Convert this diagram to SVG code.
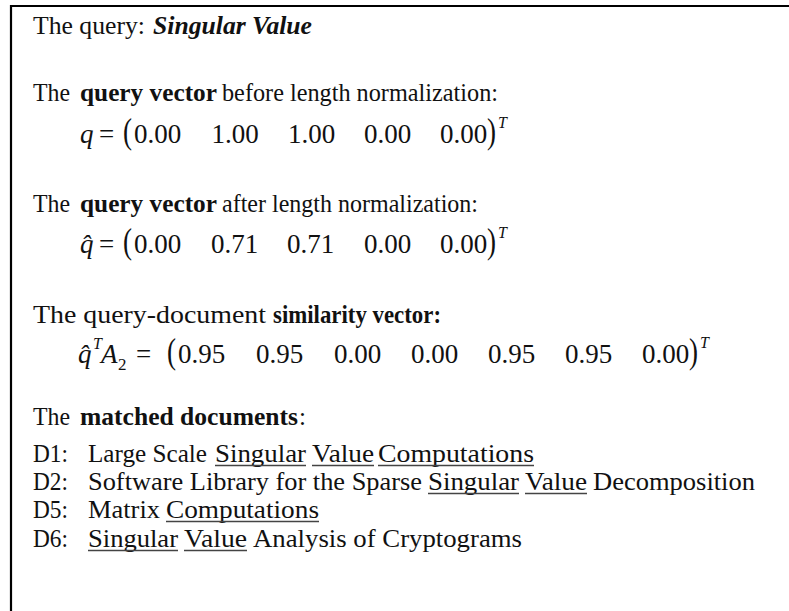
<svg xmlns="http://www.w3.org/2000/svg" width="789" height="611" viewBox="0 0 789 611">
  <style>
    .t { font-family: "Liberation Serif", "Times New Roman", serif; font-size: 25px; fill: #111; }
    .b { font-weight: bold; }
    .bi { font-weight: bold; font-style: italic; }
    .m { font-family: "Liberation Serif", "Times New Roman", serif; font-size: 27px; fill: #111; }
    .i { font-style: italic; }
    .par { font-family: "Liberation Serif", "Times New Roman", serif; font-size: 27px; fill: #111; }
    .sup { font-family: "Liberation Serif", "Times New Roman", serif; font-size: 16px; font-style: italic; fill: #111; }
    .sub { font-family: "Liberation Serif", "Times New Roman", serif; font-size: 17px; fill: #111; }
    .ul { stroke: #444; stroke-width: 1.4; }
    .frame { fill: none; stroke: #000; stroke-width: 2.2; }
  </style>
  <rect width="789" height="611" fill="#fff"/>

  <!-- frame: top and left rules -->
  <path class="frame" d="M11 620 V6 H800"/>

  <!-- query -->
  <g id="query">
    <text class="t" x="33" y="34" textLength="112" lengthAdjust="spacingAndGlyphs">The query:</text>
    <text class="t bi" x="153" y="34" textLength="159" lengthAdjust="spacingAndGlyphs">Singular Value</text>
  </g>

  <!-- query vector before normalization -->
  <g id="query-vector">
    <text class="t" x="33" y="101" textLength="37" lengthAdjust="spacingAndGlyphs">The</text>
    <text class="t b" x="80" y="101" textLength="137" lengthAdjust="spacingAndGlyphs">query vector</text>
    <text class="t" x="222" y="101" textLength="276" lengthAdjust="spacingAndGlyphs">before length normalization:</text>
    <text class="m i" x="80" y="143">q</text>
    <text class="m" x="99" y="143">=</text>
    <text class="par" transform="translate(123 143) scale(1 1.35)">(</text>
    <text class="m" y="143"><tspan x="134">0.00</tspan><tspan x="211.5">1.00</tspan><tspan x="288">1.00</tspan><tspan x="364">0.00</tspan><tspan x="440">0.00</tspan></text>
    <text class="par" transform="translate(487 143) scale(1 1.35)">)</text>
    <text class="sup" x="498" y="128">T</text>
  </g>

  <!-- query vector after normalization -->
  <g id="normalized-vector">
    <text class="t" x="33" y="212" textLength="37" lengthAdjust="spacingAndGlyphs">The</text>
    <text class="t b" x="80" y="212" textLength="137" lengthAdjust="spacingAndGlyphs">query vector</text>
    <text class="t" x="222" y="212" textLength="256" lengthAdjust="spacingAndGlyphs">after length normalization:</text>
    <text class="m i" x="80" y="253">q&#x302;</text>
    <text class="m" x="99" y="253">=</text>
    <text class="par" transform="translate(123 253) scale(1 1.35)">(</text>
    <text class="m" y="253"><tspan x="134">0.00</tspan><tspan x="211">0.71</tspan><tspan x="287">0.71</tspan><tspan x="364">0.00</tspan><tspan x="440">0.00</tspan></text>
    <text class="par" transform="translate(487 253) scale(1 1.35)">)</text>
    <text class="sup" x="498" y="238">T</text>
  </g>

  <!-- similarity vector -->
  <g id="similarity-vector">
    <text class="t" x="33" y="323" textLength="233" lengthAdjust="spacingAndGlyphs">The query-document</text>
    <text class="t b" x="273" y="323" textLength="168" lengthAdjust="spacingAndGlyphs">similarity vector:</text>
    <text class="m i" x="78" y="363">q&#x302;</text>
    <text class="sup" x="93" y="349">T</text>
    <text class="m i" x="101" y="363">A</text>
    <text class="sub" x="118" y="370">2</text>
    <text class="m" x="136" y="363">=</text>
    <text class="par" transform="translate(167 363) scale(1 1.35)">(</text>
    <text class="m" y="363"><tspan x="178">0.95</tspan><tspan x="256">0.95</tspan><tspan x="334">0.00</tspan><tspan x="411">0.00</tspan><tspan x="488">0.95</tspan><tspan x="565">0.95</tspan><tspan x="642">0.00</tspan></text>
    <text class="par" transform="translate(689 363) scale(1 1.35)">)</text>
    <text class="sup" x="700" y="348">T</text>
  </g>

  <!-- matched documents -->
  <g id="matched-documents">
    <text class="t" x="33" y="425" textLength="37" lengthAdjust="spacingAndGlyphs">The</text>
    <text class="t b" x="80" y="425" textLength="218" lengthAdjust="spacingAndGlyphs">matched documents</text>
    <text class="t" x="299" y="425">:</text>

    <text class="t" x="33" y="462" textLength="35" lengthAdjust="spacingAndGlyphs">D1:</text>
    <text class="t" x="88" y="462" textLength="119" lengthAdjust="spacingAndGlyphs">Large Scale</text>
    <text class="t" x="215" y="462" textLength="91" lengthAdjust="spacingAndGlyphs">Singular</text>
    <text class="t" x="312" y="462" textLength="62" lengthAdjust="spacingAndGlyphs">Value</text>
    <text class="t" x="378" y="462" textLength="156" lengthAdjust="spacingAndGlyphs">Computations</text>
    <line class="ul" x1="215" y1="465.5" x2="306" y2="465.5"/>
    <line class="ul" x1="312" y1="465.5" x2="374" y2="465.5"/>
    <line class="ul" x1="378" y1="465.5" x2="534" y2="465.5"/>

    <text class="t" x="33" y="490" textLength="35" lengthAdjust="spacingAndGlyphs">D2:</text>
    <text class="t" x="88" y="490" textLength="334" lengthAdjust="spacingAndGlyphs">Software Library for the Sparse</text>
    <text class="t" x="428" y="490" textLength="91" lengthAdjust="spacingAndGlyphs">Singular</text>
    <text class="t" x="525" y="490" textLength="62" lengthAdjust="spacingAndGlyphs">Value</text>
    <text class="t" x="593" y="490" textLength="162" lengthAdjust="spacingAndGlyphs">Decomposition</text>
    <line class="ul" x1="428" y1="493.5" x2="519" y2="493.5"/>
    <line class="ul" x1="525" y1="493.5" x2="587" y2="493.5"/>

    <text class="t" x="33" y="518" textLength="35" lengthAdjust="spacingAndGlyphs">D5:</text>
    <text class="t" x="88" y="518" textLength="72" lengthAdjust="spacingAndGlyphs">Matrix</text>
    <text class="t" x="166" y="518" textLength="153" lengthAdjust="spacingAndGlyphs">Computations</text>
    <line class="ul" x1="166" y1="521.5" x2="319" y2="521.5"/>

    <text class="t" x="33" y="547" textLength="35" lengthAdjust="spacingAndGlyphs">D6:</text>
    <text class="t" x="88" y="547" textLength="90" lengthAdjust="spacingAndGlyphs">Singular</text>
    <text class="t" x="184" y="547" textLength="63" lengthAdjust="spacingAndGlyphs">Value</text>
    <text class="t" x="253" y="547" textLength="269" lengthAdjust="spacingAndGlyphs">Analysis of Cryptograms</text>
    <line class="ul" x1="88" y1="550.5" x2="178" y2="550.5"/>
    <line class="ul" x1="184" y1="550.5" x2="247" y2="550.5"/>
  </g>
</svg>
